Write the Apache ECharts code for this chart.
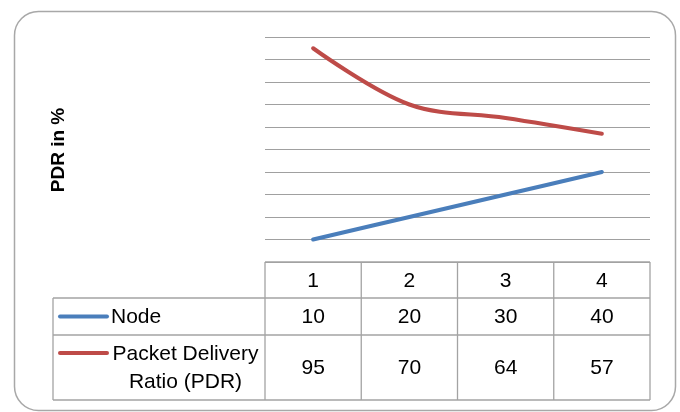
<!DOCTYPE html>
<html><head><meta charset="utf-8">
<script src="https://cdn.jsdelivr.net/npm/echarts@6/dist/echarts.min.js"></script>
<style>html,body{margin:0;padding:0;background:#fff}#c{width:680px;height:412px}</style>
</head><body><div id="c"></div>
<script>
// ---- data ----
const categories = ['1', '2', '3', '4'];
const nodeValues = [10, 20, 30, 40];
const pdrValues = [95, 70, 64, 57];
const nodeName = 'Node';
const pdrName = 'Packet Delivery\nRatio (PDR)';
const axisTitle = 'PDR in %';
const yMin = 0, yMax = 100, yStep = 10;

// ---- style ----
const FONT = '"Liberation Sans", Arial, sans-serif';
const BLUE = '#4a7ebb';
const RED = '#be4b48';
const GRID = '#a0a0a0';
const TBL = '#a3a3a3';

const chart = echarts.init(document.getElementById('c'), null, {renderer: 'canvas'});
const option = {
  animation: false,
  backgroundColor: '#fff',
  grid: {left: 265, right: 30, top: 37, bottom: 150},
  xAxis: {
    type: 'category', data: categories, boundaryGap: true,
    axisLine: {show: false}, axisTick: {show: false}, axisLabel: {show: false}
  },
  yAxis: {
    type: 'value', min: yMin, max: yMax, interval: yStep,
    axisLine: {show: false}, axisTick: {show: false}, axisLabel: {show: false},
    splitLine: {lineStyle: {color: GRID, width: 1}}
  },
  series: [
    {name: nodeName, type: 'line', data: nodeValues, showSymbol: false, smooth: 0.35,
     lineStyle: {color: BLUE, width: 4, cap: 'round'}, itemStyle: {color: BLUE}},
    {name: pdrName, type: 'line', data: pdrValues, showSymbol: false, smooth: 0.35,
     lineStyle: {color: RED, width: 4, cap: 'round'}, itemStyle: {color: RED}}
  ]
};
chart.setOption(option);

// ---- data table drawn under the plot, aligned to the category axis ----
const c0 = chart.convertToPixel({xAxisIndex: 0}, categories[0]);
const c1 = chart.convertToPixel({xAxisIndex: 0}, categories[1]);
const band = c1 - c0;
const plotLeft = c0 - band / 2;
const plotRight = plotLeft + band * categories.length;
const tblTop = chart.convertToPixel({yAxisIndex: 0}, yMin);
const rowH = [36, 37, 65];
const r1 = tblTop + rowH[0], r2 = r1 + rowH[1], r3 = r2 + rowH[2];
const tblLeft = 53;

const g = [];
function line(x1, y1, x2, y2) {
  g.push({type: 'line', shape: {x1, y1, x2, y2}, style: {stroke: TBL, lineWidth: 1.3}, z: 10});
}
function txt(s, x, y, extra) {
  g.push(Object.assign({type: 'text', x, y, z: 11, style: Object.assign({
    text: s, font: '21px ' + FONT, fill: '#000', textAlign: 'center', textVerticalAlign: 'middle'
  }, extra || {})}));
}
// horizontal lines
line(plotLeft, tblTop, plotRight, tblTop);
line(tblLeft, r1, plotRight, r1);
line(tblLeft, r2, plotRight, r2);
line(tblLeft, r3, plotRight, r3);
// vertical lines
line(tblLeft, r1, tblLeft, r3);
for (let i = 0; i <= categories.length; i++) {
  const x = plotLeft + band * i;
  line(x, tblTop, x, r3);
}
// cells
categories.forEach((cat, i) => {
  const x = chart.convertToPixel({xAxisIndex: 0}, cat);
  txt(cat, x, (tblTop + r1) / 2 + 1);
  txt(String(nodeValues[i]), x, (r1 + r2) / 2 + 1);
  txt(String(pdrValues[i]), x, (r2 + r3) / 2 + 1);
});
// row headers with legend keys
g.push({type: 'line', shape: {x1: 60, y1: (r1 + r2) / 2, x2: 107, y2: (r1 + r2) / 2},
  style: {stroke: BLUE, lineWidth: 4, lineCap: 'round'}, z: 11});
g.push({type: 'line', shape: {x1: 60, y1: r2 + 18, x2: 107, y2: r2 + 18},
  style: {stroke: RED, lineWidth: 4, lineCap: 'round'}, z: 11});
txt(nodeName, 111, (r1 + r2) / 2 + 1, {textAlign: 'left'});
txt(pdrName, 185.5, (r2 + r3) / 2 + 1, {lineHeight: 28});
// axis title
g.push({type: 'text', x: 58.5, y: 150, rotation: Math.PI / 2, z: 11,
  style: {text: axisTitle, font: 'bold 19px ' + FONT, fill: '#000', textAlign: 'center', textVerticalAlign: 'middle'}});
// outer rounded frame
g.push({type: 'rect', shape: {x: 14.5, y: 11.5, width: 661, height: 399, r: 24},
  style: {fill: 'none', stroke: '#a8a8a8', lineWidth: 1.5}, z: 1});

chart.setOption({graphic: g});
</script></body></html>
